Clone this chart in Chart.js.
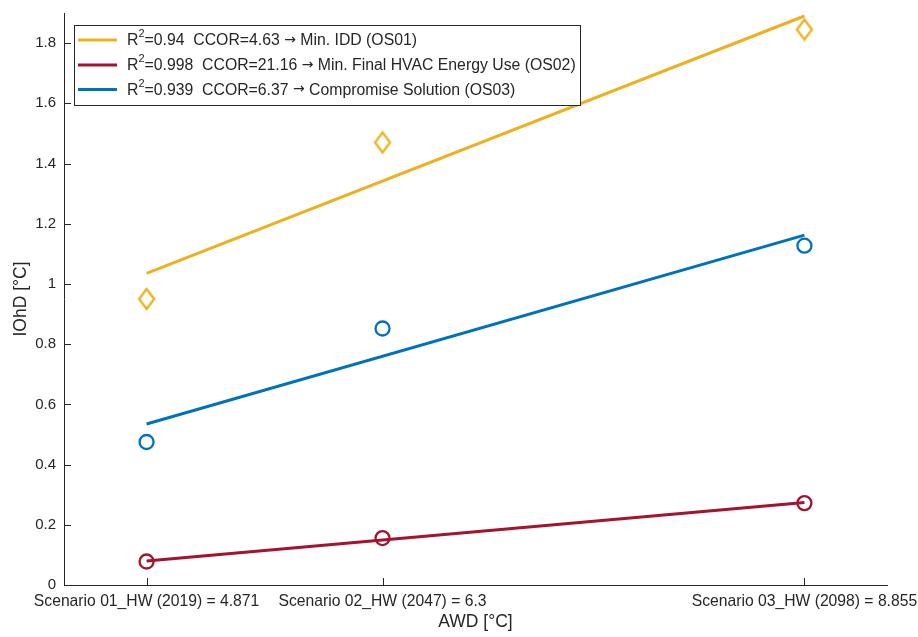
<!DOCTYPE html>
<html>
<head>
<meta charset="utf-8">
<script src="https://cdn.jsdelivr.net/npm/chart.js@4/dist/chart.umd.min.js"></script>
<style>
  html, body { margin: 0; padding: 0; background: #ffffff; }
  #wrap { width: 918px; height: 637px; }
</style>
</head>
<body>
<div id="wrap"><canvas id="c" width="918" height="637"></canvas></div>
<script>
// Average weather deviation (AWD) of the three heatwave scenarios
const awd = [4.871, 6.3, 8.855];
const scenarioLabels = [
  'Scenario 01_HW (2019) = 4.871',
  'Scenario 02_HW (2047) = 6.3',
  'Scenario 03_HW (2098) = 8.855'
];
const yTicks = [0, 0.2, 0.4, 0.6, 0.8, 1, 1.2, 1.4, 1.6, 1.8];

// IOhD per optimal solution
const iddOS01 = [0.95, 1.47, 1.845];
const hvacOS02 = [0.078, 0.156, 0.272];
const compromiseOS03 = [0.475, 0.852, 1.127];

// Linear fits, evaluated at the first and last scenario
const fitX = [4.871, 8.855];
const fitOS01 = [1.035, 1.89];
const fitOS02 = [0.08, 0.274];
const fitOS03 = [0.535, 1.162];

// Legend entries: [base, superscript, statistics, arrow, solution]
const legendEntries = [
  ['R', '2', '=0.94  CCOR=4.63 ', '\u2192', ' Min. IDD (OS01)'],
  ['R', '2', '=0.998  CCOR=21.16 ', '\u2192', ' Min. Final HVAC Energy Use (OS02)'],
  ['R', '2', '=0.939  CCOR=6.37 ', '\u2192', ' Compromise Solution (OS03)']
];

const YELLOW = '#EDB120';
const RED = '#A2142F';
const BLUE = '#0072BD';
const AXIS = '#262626';
const FONT = '"Liberation Sans", Arial, Helvetica, sans-serif';

const toPoints = (xs, ys) => xs.map((x, i) => ({ x: x, y: ys[i] }));

// Narrow diamond marker
function diamondMarker(color) {
  const w = 20, h = 24;
  const cv = document.createElement('canvas');
  cv.width = w; cv.height = h;
  const g = cv.getContext('2d');
  g.strokeStyle = color;
  g.lineWidth = 2.3;
  g.lineJoin = 'miter';
  g.beginPath();
  g.moveTo(w / 2, 2);
  g.lineTo(w - 2.5, h / 2);
  g.lineTo(w / 2, h - 2);
  g.lineTo(2.5, h / 2);
  g.closePath();
  g.stroke();
  return cv;
}

// Inward tick marks on the left and bottom axes
const inwardTicks = {
  id: 'inwardTicks',
  afterDraw(chart) {
    const { ctx, chartArea, scales } = chart;
    ctx.save();
    ctx.strokeStyle = AXIS;
    ctx.lineWidth = 1;
    ctx.beginPath();
    scales.y.ticks.forEach(t => {
      const y = Math.round(scales.y.getPixelForValue(t.value)) + 0.5;
      ctx.moveTo(chartArea.left, y);
      ctx.lineTo(chartArea.left + 7, y);
    });
    scales.x.ticks.forEach(t => {
      const x = Math.round(scales.x.getPixelForValue(t.value)) + 0.5;
      ctx.moveTo(x, chartArea.bottom);
      ctx.lineTo(x, chartArea.bottom - 7);
    });
    ctx.stroke();
    ctx.restore();
  }
};

// Boxed legend with superscript text in the upper-left corner
const boxedLegend = {
  id: 'boxedLegend',
  afterDraw(chart) {
    const { ctx } = chart;
    const colors = [YELLOW, RED, BLUE];
    const box = { x: 74.5, y: 25.5, w: 506, h: 80 };
    const rows = [41, 66, 90.5];
    const size = 15.8;
    ctx.save();
    ctx.fillStyle = '#ffffff';
    ctx.fillRect(box.x, box.y, box.w, box.h);
    ctx.strokeStyle = AXIS;
    ctx.lineWidth = 1;
    ctx.strokeRect(box.x, box.y, box.w, box.h);
    legendEntries.forEach((entry, i) => {
      const y = rows[i];
      ctx.strokeStyle = colors[i];
      ctx.lineWidth = 3;
      ctx.beginPath();
      ctx.moveTo(78, y - 1);
      ctx.lineTo(117, y - 1);
      ctx.stroke();

      ctx.fillStyle = AXIS;
      ctx.textBaseline = 'middle';
      ctx.textAlign = 'left';
      let x = 127;
      const put = (text, font, dy) => {
        ctx.font = font;
        ctx.fillText(text, x, y + dy);
        x += ctx.measureText(text).width;
      };
      put(entry[0], size + 'px ' + FONT, 0);
      put(entry[1], '11px ' + FONT, -7);
      put(entry[2], size + 'px ' + FONT, 0);
      put(entry[3], '14px "DejaVu Sans", ' + FONT, -1);
      put(entry[4], size + 'px ' + FONT, 0);
    });
    ctx.restore();
  }
};

const lineStyle = (color) => ({
  showLine: true,
  borderColor: color,
  borderWidth: 3,
  pointRadius: 0,
  pointHoverRadius: 0,
  fill: false
});

const markerStyle = (color, style) => ({
  showLine: false,
  borderColor: color,
  backgroundColor: 'rgba(0,0,0,0)',
  borderWidth: 2.3,
  pointStyle: style,
  pointRadius: 7,
  pointHoverRadius: 7
});

new Chart(document.getElementById('c'), {
  type: 'scatter',
  data: {
    datasets: [
      Object.assign({ label: 'OS01 fit', data: toPoints(fitX, fitOS01) }, lineStyle(YELLOW)),
      Object.assign({ label: 'OS02 fit', data: toPoints(fitX, fitOS02) }, lineStyle(RED)),
      Object.assign({ label: 'OS03 fit', data: toPoints(fitX, fitOS03) }, lineStyle(BLUE)),
      Object.assign({ label: 'OS01', data: toPoints(awd, iddOS01) }, markerStyle(YELLOW, diamondMarker(YELLOW))),
      Object.assign({ label: 'OS02', data: toPoints(awd, hvacOS02) }, markerStyle(RED, 'circle')),
      Object.assign({ label: 'OS03', data: toPoints(awd, compromiseOS03) }, markerStyle(BLUE, 'circle'))
    ]
  },
  options: {
    responsive: false,
    animation: false,
    devicePixelRatio: 1,
    layout: { padding: { top: 13, right: 31, left: 0, bottom: 0 } },
    plugins: {
      legend: { display: false },
      tooltip: { enabled: false }
    },
    scales: {
      x: {
        type: 'linear',
        min: 4.371,
        max: 9.355,
        afterBuildTicks: (scale) => { scale.ticks = awd.map(v => ({ value: v })); },
        afterFit: (scale) => {
          scale.height = 52;
          scale.paddingLeft = 0;
          scale.paddingRight = 0;
        },
        grid: { display: false, drawTicks: false },
        border: { display: true, color: AXIS, width: 1 },
        ticks: {
          autoSkip: false,
          maxRotation: 0,
          padding: 7,
          color: AXIS,
          font: { family: FONT, size: 15.7 },
          callback: (value, index) => scenarioLabels[index]
        },
        title: {
          display: true,
          text: 'AWD [\u00B0C]',
          color: AXIS,
          font: { family: FONT, size: 17.5 },
          padding: { top: 0, bottom: 4 }
        }
      },
      y: {
        type: 'linear',
        min: 0,
        max: 1.9,
        afterBuildTicks: (scale) => { scale.ticks = yTicks.map(v => ({ value: v })); },
        afterFit: (scale) => {
          scale.width = 64;
          scale.paddingTop = 0;
          scale.paddingBottom = 0;
        },
        grid: { display: false, drawTicks: false },
        border: { display: true, color: AXIS, width: 1 },
        ticks: {
          padding: 8,
          color: AXIS,
          font: { family: FONT, size: 15 },
          callback: (value) => String(value)
        },
        title: {
          display: true,
          text: 'IOhD [\u00B0C]',
          color: AXIS,
          font: { family: FONT, size: 17.5 },
          padding: { top: 11, bottom: 0 }
        }
      }
    }
  },
  plugins: [inwardTicks, boxedLegend]
});
</script>
</body>
</html>
